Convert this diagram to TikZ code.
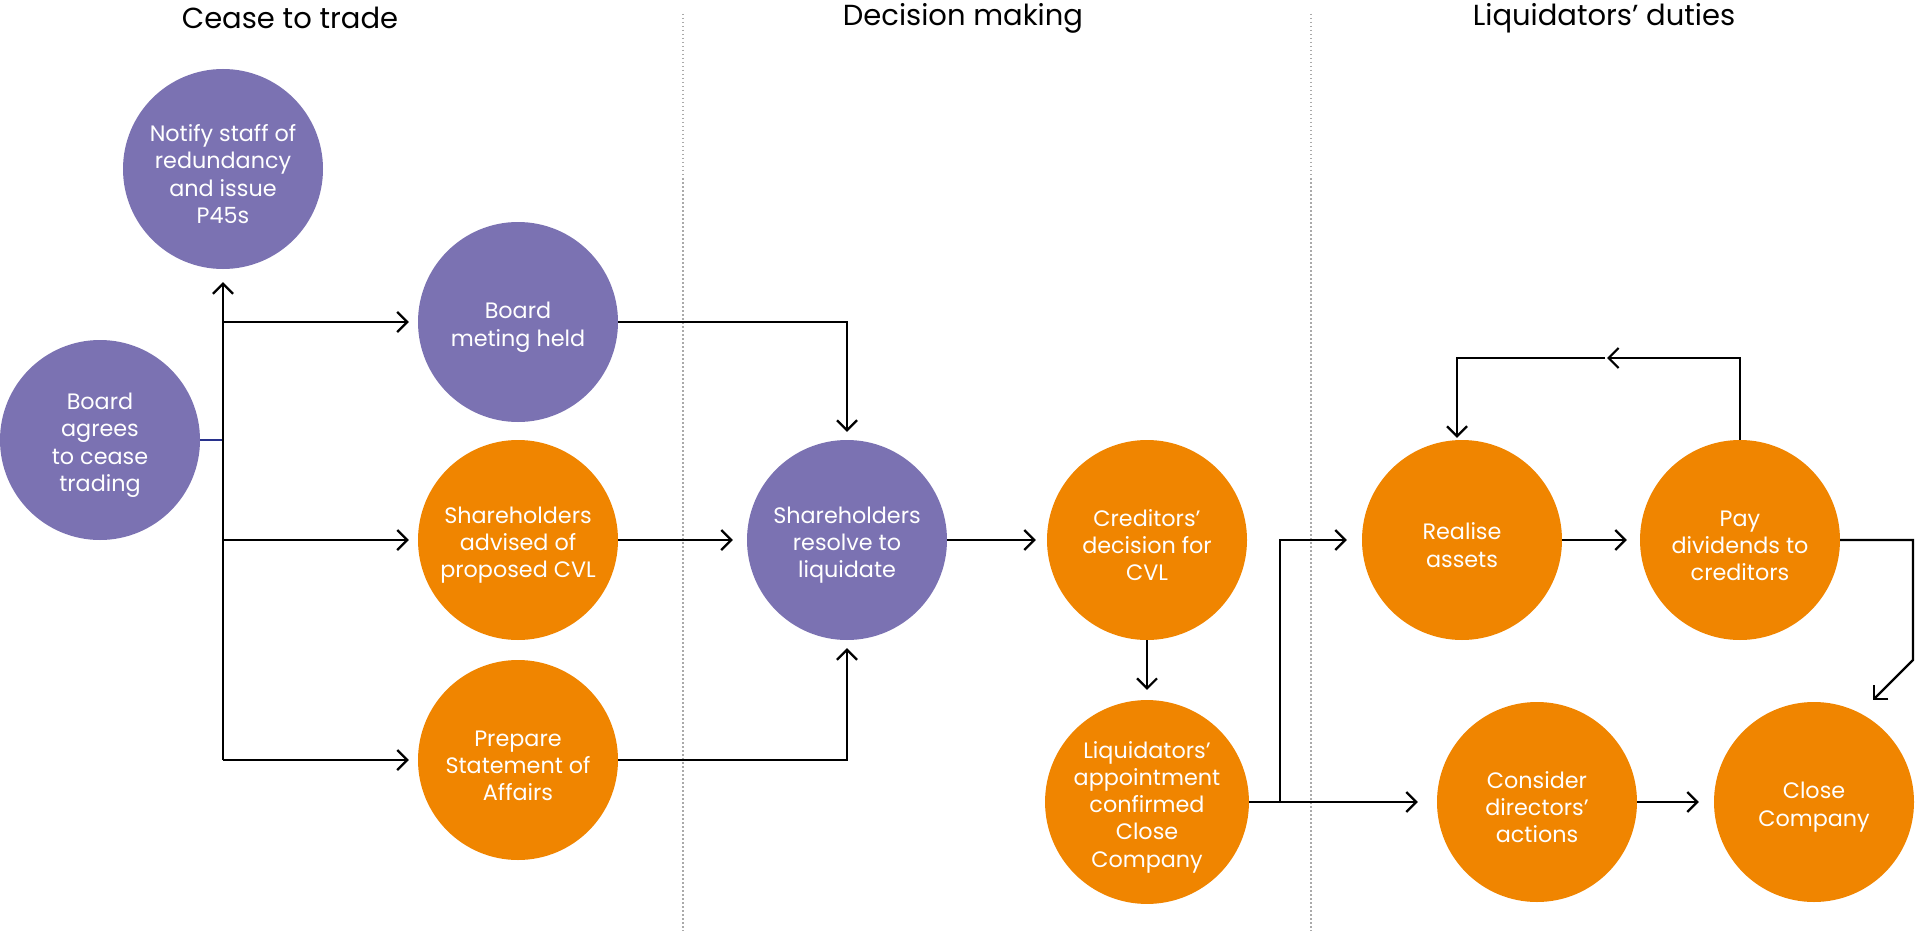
\documentclass[tikz,border=0pt]{standalone}
\usepackage{fontspec}
\setmainfont{Poppins}
\usetikzlibrary{arrows.meta}
\definecolor{purp}{RGB}{123,114,178}
\definecolor{orng}{RGB}{240,133,0}
\definecolor{navy}{RGB}{40,50,140}
\definecolor{dotgray}{RGB}{170,170,170}
\newcommand{\dn}{\rule{0pt}{27pt}}
\tikzset{
  circ/.style={circle, minimum size=200pt, inner sep=0pt, text=white, align=center,
    font=\fontsize{22.3}{27.3}\selectfont},
  pnode/.style={circ, fill=purp},
  onode/.style={circ, fill=orng},
  conn/.style={line width=2.2pt, black},
  arr/.style={conn, -{Straight Barb[length=10pt,width=20pt,line width=2.2pt]}, shorten >=12pt},
  title/.style={font=\fontsize{29}{34}\selectfont, text=black},
  sep/.style={dotgray, line width=1.5pt, dash pattern=on 1.5pt off 2.5pt}
}
\begin{document}
\begin{tikzpicture}[x=1pt,y=-1pt]
\useasboundingbox (0,0) rectangle (1915,931);
\fill[white] (0,0) rectangle (1915,931);
% separators
\draw[sep] (683,14) -- (683,931);
\draw[sep] (1311,14) -- (1311,931);
% titles
\node[title] (t1) at (290,18) {Cease to trade};
\node[title] (t2) at (963,18) {Decision making};
\node[title] (t3) at (1604,18) {Liquidators’ duties};
% nodes
\node[pnode] (agree) at (100,440) {\dn Board\\agrees\\to cease\\trading};
\node[pnode] (notify) at (223,169) {\dn Notify staff of\\redundancy\\and issue\\P45s};
\node[pnode] (meet) at (518,322) {\dn Board\\meting held};
\node[onode] (adv) at (518,540) {\dn Shareholders\\advised of\\proposed CVL};
\node[onode] (prep) at (518,760) {\dn Prepare\\Statement of\\Affairs};
\node[pnode] (resolve) at (847,540) {\dn Shareholders\\resolve to\\liquidate};
\node[onode] (cred) at (1147,540) {\dn Creditors’\\decision for\\CVL};
\node[onode] (liq) at (1147,802) {\dn Liquidators’\\appointment\\confirmed\\Close\\Company};
\node[onode] (real) at (1462,540) {\dn Realise\\assets};
\node[onode] (pay) at (1740,540) {\dn Pay\\dividends to\\creditors};
\node[onode] (cons) at (1537,802) {\dn Consider\\directors’\\actions};
\node[onode] (close) at (1814,802) {\dn Close\\Company};
% coordinates
\coordinate (tA) at (223,440);
\coordinate (tB) at (223,760);
\coordinate (b1) at (223,322);
\coordinate (b2) at (223,540);
\coordinate (j) at (1280,802);
\coordinate (lp1) at (1740,358);
\coordinate (lp2) at (1607,358);
\coordinate (lp3) at (1605,358);
\coordinate (lp4) at (1457,358);
\coordinate (r1) at (1913,540);
\coordinate (r2) at (1913,660);
\coordinate (dtip) at (1873,700);
% connectors
\draw[navy, line width=2.2pt] (agree.east) -- (tA);
\draw[arr, shorten >=13pt] (tB) -- (notify.south);
\draw[arr, shorten >=9pt] (b1) -- (meet.west);
\draw[arr, shorten >=9pt] (b2) -- (adv.west);
\draw[arr, shorten >=9pt] (tB) -- (prep.west);
\draw[arr, shorten >=8pt] (meet.east) -| (resolve.north);
\draw[arr, shorten >=8pt] (prep.east) -| (resolve.south);
\draw[arr, shorten >=14pt] (adv.east) -- (resolve.west);
\draw[arr, shorten >=11pt] (resolve.east) -- (cred.west);
\draw[arr, shorten >=10pt] (cred.south) -- (liq.north);
\draw[conn] (liq.east) -- (j);
\draw[arr, shorten >=15pt] (j) |- (real.west);
\draw[arr, shorten >=19pt] (j) -- (cons.west);
\draw[arr, shorten >=13pt] (real.east) -- (pay.west);
\draw[arr, shorten >=0pt] (pay.north) -- (lp1) -- (lp2);
\draw[arr, shorten >=2pt] (lp3) -- (lp4) -- ([xshift=-5pt]real.north);
\draw[arr, shorten >=0pt] (pay.east) -- (r1) -- (r2) -- (dtip);
\draw[arr, shorten >=15pt] (cons.east) -- (close.west);
\end{tikzpicture}
\end{document}
